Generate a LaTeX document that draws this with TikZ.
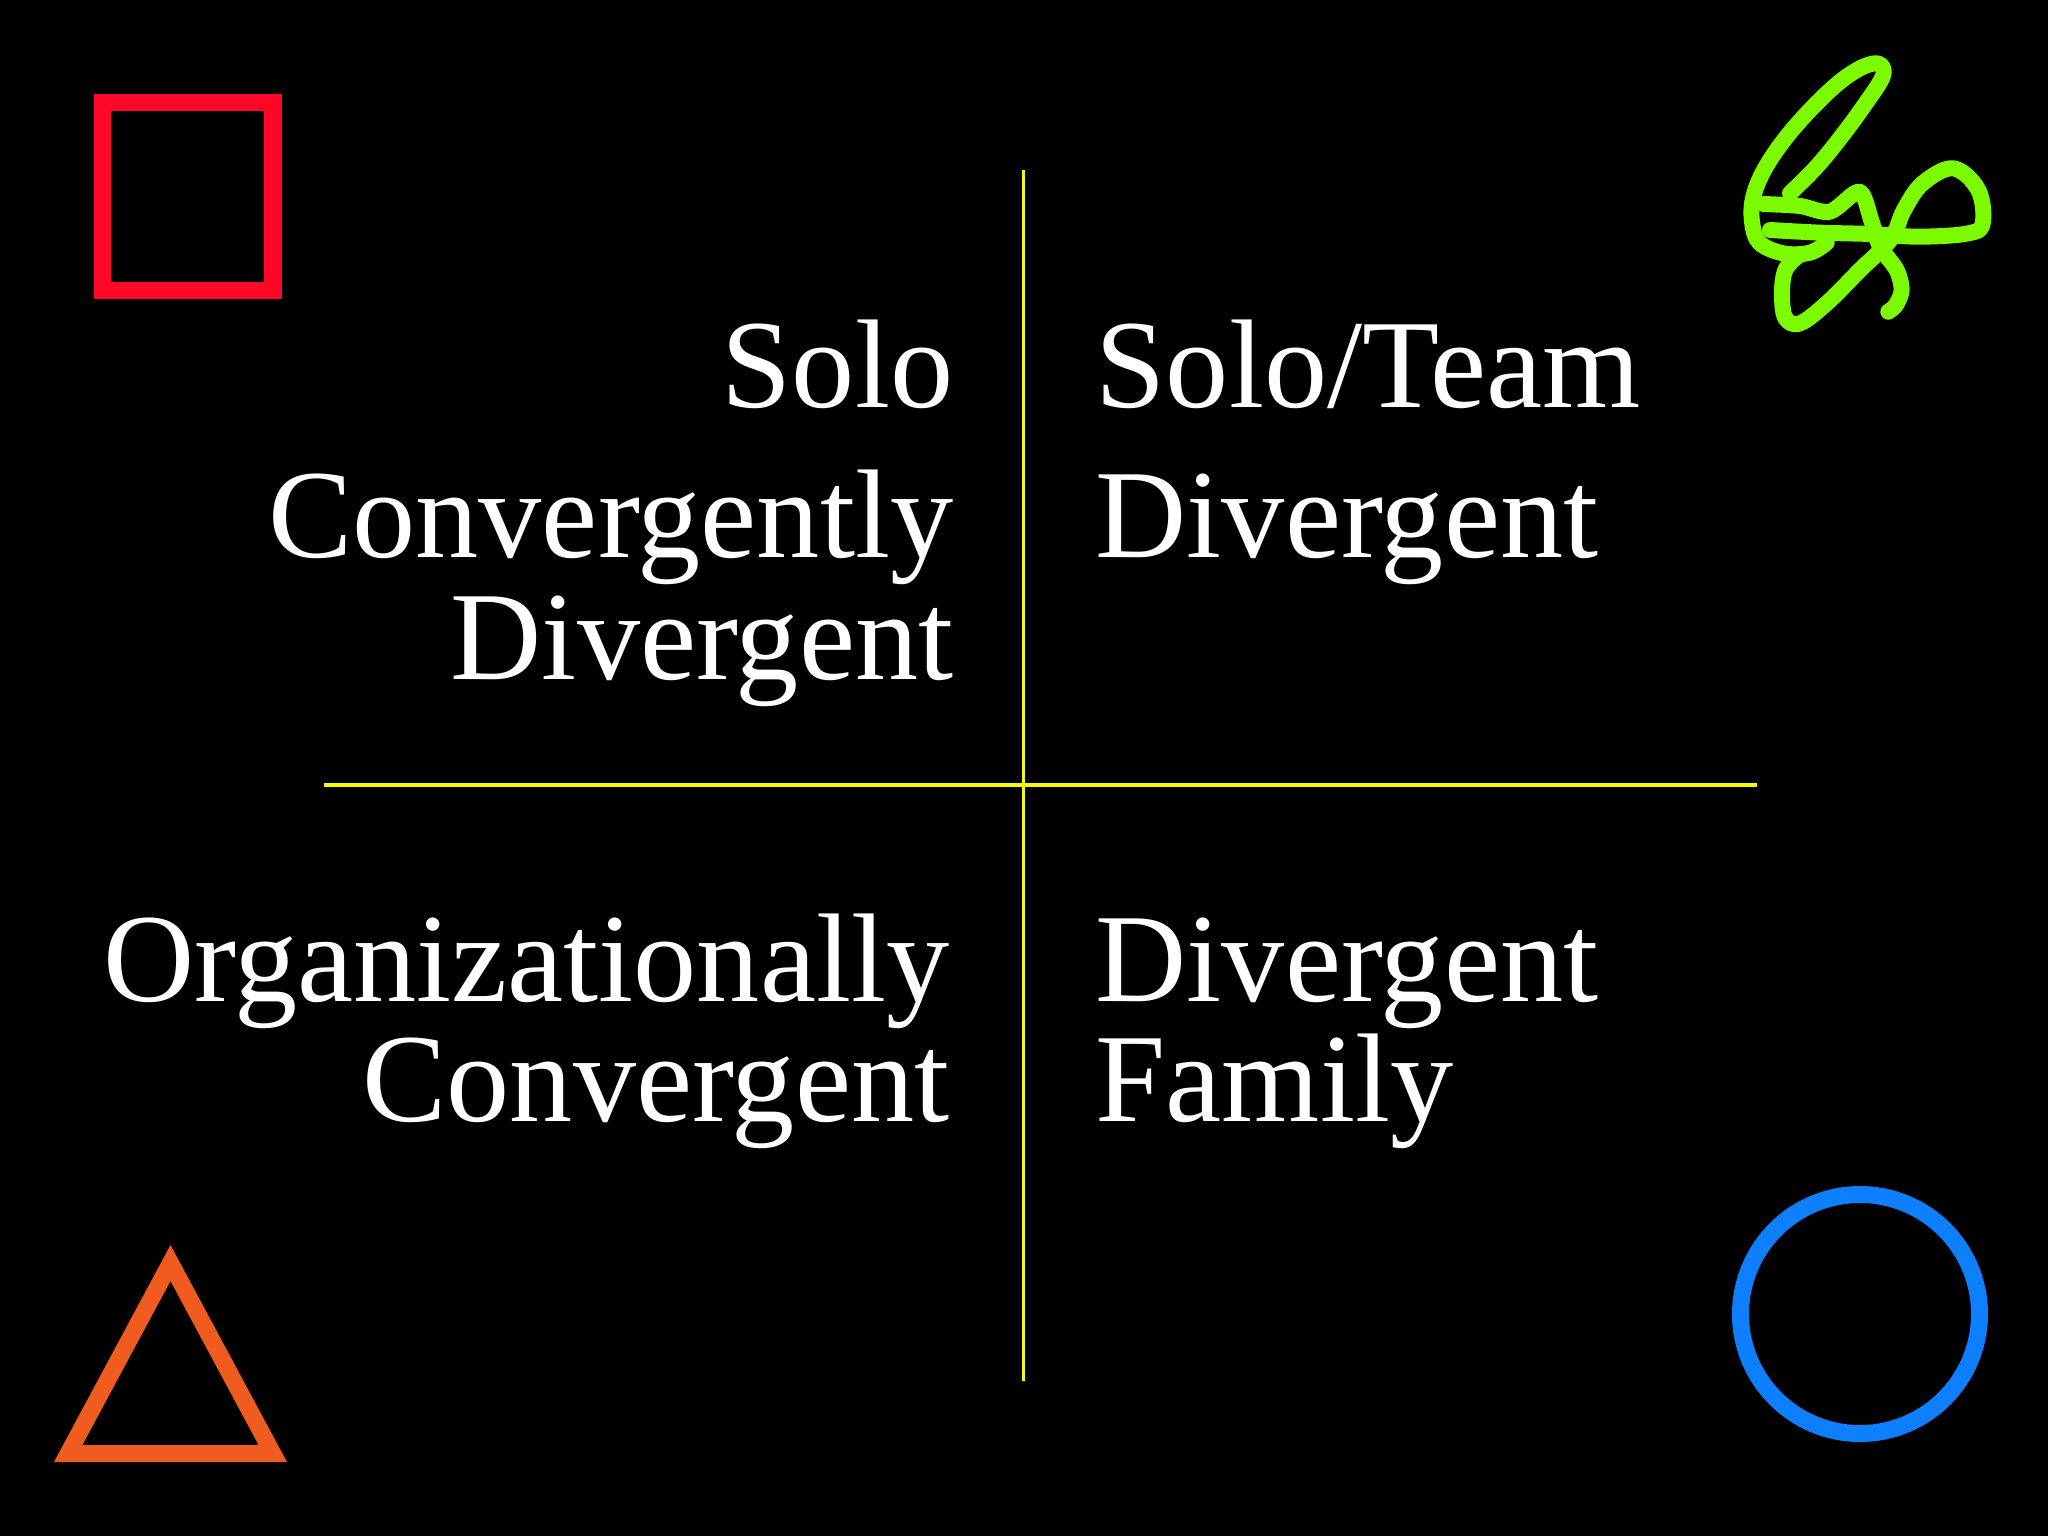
\documentclass[tikz,border=0pt]{standalone}
\usepackage{fontspec}
\setmainfont{Liberation Serif}
\usetikzlibrary{positioning}

\definecolor{axisyellow}{RGB}{250,250,0}
\definecolor{boxred}{RGB}{255,8,40}
\definecolor{triorange}{RGB}{240,92,32}
\definecolor{ringblue}{RGB}{14,128,255}
\definecolor{scribgreen}{RGB}{124,250,0}

\begin{document}
\begin{tikzpicture}[x=0.01cm,y=-0.01cm,
    lbl/.style={text=white,inner sep=0pt,font=\fontsize{35.9}{34}\selectfont},
    rule/.style={draw=axisyellow,line width=0.035cm},
    outline/.style={line width=0.17cm},
    scrib/.style={draw=scribgreen,line width=0.16cm,line cap=round,line join=round}]
	\fill[black] (0,0) rectangle (2048,1536);
	\useasboundingbox (0,0) rectangle (2048,1536);

	% axes
	\coordinate (T) at (1023.5,170);
	\coordinate (Bm) at (1023.5,1381);
	\coordinate (L) at (324,785);
	\coordinate (R) at (1757,785);
	\draw[rule] (T)--(Bm);
	\draw[rule] (L)--(R);

	% quadrant labels
	\node[lbl,anchor=base east] (solo) at (954,407) {Solo};
	\node[lbl,anchor=base east] (conv) at (954,557) {Convergently};
	\node[lbl,anchor=base east] (divl) at (954,679) {Divergent};
	\node[lbl,anchor=base west] (team) at (1095,407) {Solo/Team};
	\node[lbl,anchor=base west] (divr) at (1095,557) {Divergent};
	\node[lbl,anchor=base east] (org) at (950,1001) {Organizationally};
	\node[lbl,anchor=base east] (convb) at (950,1121) {Convergent};
	\node[lbl,anchor=base west] (divb) at (1095,1001) {Divergent};
	\node[lbl,anchor=base west] (fam) at (1095,1121) {Family};

	% corner shapes
	\draw[outline,draw=boxred] (102.5,102.5) rectangle (273,290);
	\coordinate (TA) at (170.5,1263);
	\coordinate (TB) at (68.2,1453.5);
	\coordinate (TC) at (272.8,1453.5);
	\draw[outline,draw=triorange] (TA)--(TB)--(TC)--cycle;
	\coordinate (O) at (1860,1314);
	\draw[outline,draw=ringblue] (O) circle (119.5);

	% scribble
	\begin{scope}[shift={(1720,40)},scale=1/3]
		\draw[scrib] plot[smooth,tension=0.6] coordinates {(210,460) (290,380) (360,295) (430,200) (488,110) (478,72) (430,80) (360,125) (280,200) (200,290) (135,385) (100,470) (96,545) (118,608) (190,640) (270,638) (320,608)};
		\draw[scrib] plot[smooth,tension=0.5] coordinates {(130,492) (240,498) (330,515) (418,455) (455,545) (480,620) (530,690) (545,750) (528,795) (505,815)};
		\draw[scrib] plot[smooth,tension=0.6] coordinates {(150,570) (300,578) (450,582) (600,590) (745,580) (788,550) (775,450) (700,385) (608,430) (552,510) (512,598) (420,690) (320,790) (240,850) (196,834) (186,760) (196,690) (232,650)};
	\end{scope}
\end{tikzpicture}
\end{document}
